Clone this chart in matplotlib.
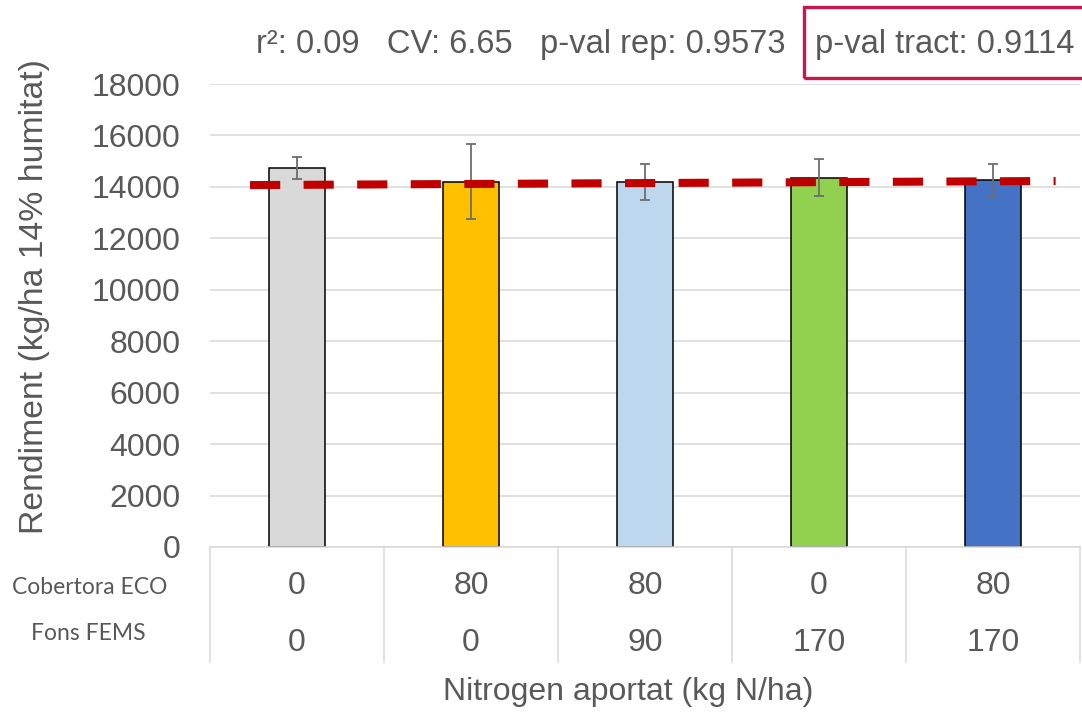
import matplotlib
matplotlib.use("Agg")
import matplotlib.pyplot as plt
from matplotlib.patches import Rectangle

# chart values
treatments = ["T1", "T2", "T3", "T4", "T5"]
rendiment = [14740, 14200, 14180, 14360, 14270]
error = [430, 1460, 700, 720, 630]
cobertora_eco = ["0", "80", "80", "0", "80"]
fons_fems = ["0", "0", "90", "170", "170"]
bar_colors = ["#D9D9D9", "#FFC000", "#BDD7EE", "#92D050", "#4472C4"]

# linear trend line (ends)
trend_x = [-0.27, 4.36]
trend_y = [14070, 14230]

stats_text = "r\u00b2: 0.09   CV: 6.65   p-val rep: 0.9573"
tract_text = "p-val tract: 0.9114"

GREY = "#595959"
plt.rcParams["font.family"] = ["Liberation Sans", "DejaVu Sans"]

fig = plt.figure(figsize=(10.82, 7.15), dpi=100)
ax = fig.add_axes([210 / 1082, 1 - 547 / 715, 870 / 1082, 463 / 715])

x = list(range(len(treatments)))
ax.bar(x, rendiment, width=0.32, color=bar_colors, edgecolor="black",
       linewidth=1.1, zorder=2)
ax.errorbar(x, rendiment, yerr=error, fmt="none", ecolor="#6E6E6E",
            elinewidth=1.3, capsize=3.8, capthick=1.3, zorder=3)
ax.plot(trend_x, trend_y, color="#C00000", linewidth=5.8,
        dashes=(3.75, 2.9), solid_capstyle="butt", dash_capstyle="butt",
        zorder=4)

ax.set_xlim(-0.5, 4.5)
ax.set_ylim(0, 18000)
ax.set_yticks(range(0, 18001, 2000))
ax.set_xticks([])
ax.yaxis.grid(True, color="#D9D9D9", linewidth=1.1, zorder=0)
ax.set_axisbelow(True)
for s in ["top", "right", "left"]:
    ax.spines[s].set_visible(False)
ax.spines["bottom"].set_color("#D9D9D9")
ax.spines["bottom"].set_linewidth(1.1)
ax.tick_params(axis="y", length=0, pad=21, labelsize=23, labelcolor=GREY)
fig.text(35 / 1082, 1 - 297 / 715, "Rendiment (kg/ha 14% humitat)",
         rotation=90, ha="center", va="center", fontsize=24.3, color=GREY)

# category table under the axis
tr = ax.get_xaxis_transform()
for xs in [i - 0.5 for i in range(len(treatments) + 1)]:
    ax.plot([xs, xs], [0, -0.2484], transform=tr, color="#D9D9D9",
            linewidth=1.1, clip_on=False)
for i in x:
    ax.text(i, -0.084, cobertora_eco[i], transform=tr, ha="center",
            va="center", fontsize=23, color=GREY)
    ax.text(i, -0.207, fons_fems[i], transform=tr, ha="center",
            va="center", fontsize=23, color=GREY)

fig.text(90 / 1082, 1 - 588 / 715, "Cobertora ECO", ha="center",
         va="center", fontsize=16.5, color=GREY, family=["Lato"])
fig.text(88 / 1082, 1 - 633 / 715, "Fons FEMS", ha="center",
         va="center", fontsize=16.5, color=GREY, family=["Lato"])
fig.text(628 / 1082, 1 - 692 / 715, "Nitrogen aportat (kg N/ha)",
         ha="center", va="center", fontsize=23, color=GREY)

# stats header
fig.text(256 / 1082, 1 - 45 / 715, stats_text, ha="left", va="center",
         fontsize=23.5, color=GREY)
fig.text(815 / 1082, 1 - 45 / 715, tract_text, ha="left", va="center",
         fontsize=23.5, color=GREY)
fig.patches.append(Rectangle((804 / 1082, 1 - 78 / 715), 290 / 1082,
                             71 / 715, transform=fig.transFigure,
                             fill=False, edgecolor="#C8174A", linewidth=2.4))

fig.savefig("out.png", dpi=100)
